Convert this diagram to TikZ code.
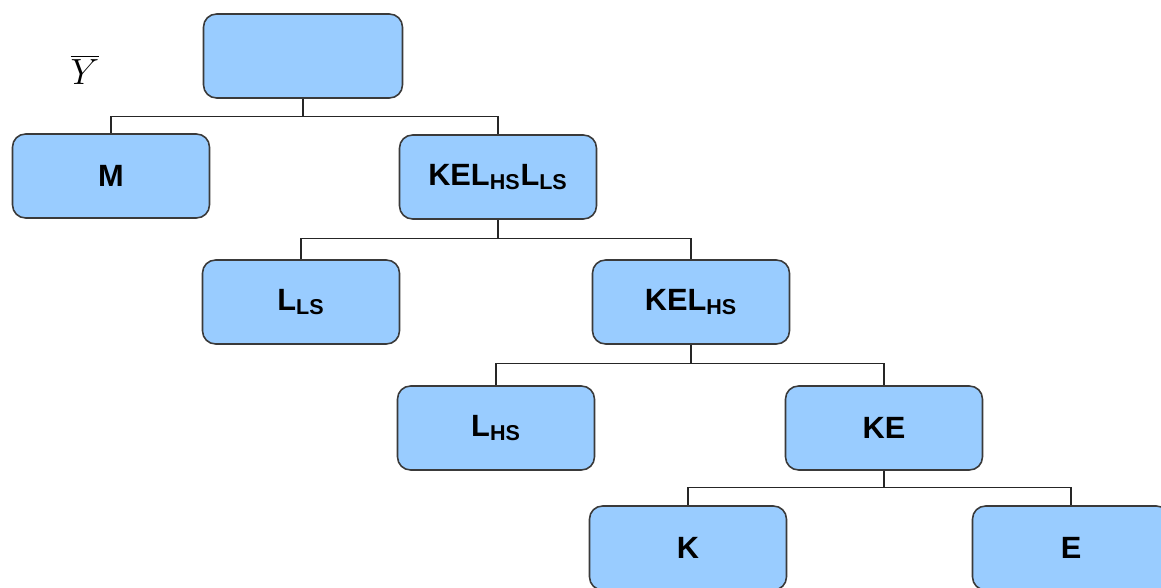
\documentclass[tikz,border=0pt]{standalone}
\usepackage{fontspec}
\setsansfont{Liberation Sans}
\usetikzlibrary{positioning}
\definecolor{boxblue}{HTML}{99CCFF}
\definecolor{boxline}{HTML}{3A3A3A}
\tikzstyle{block} = [draw=boxline, fill=boxblue, rectangle, rounded corners=0.26cm, line width=0.9pt, minimum height=1.68cm, minimum width=3.94cm, font=\sffamily\bfseries\fontsize{17.5}{20}\selectfont]
\tikzstyle{link} = [draw=black!85, line width=0.8pt]

\begin{document}
\begin{tikzpicture}[x=0.02cm,y=-0.02cm]
    \clip (0,0) rectangle (1161,588);
    \node [block, minimum width=3.98cm] (root) at (303,56) {};
    \node (ybar) at (85,70) {\fontsize{21}{24}\selectfont$\overline{Y}$};
    \node [block] (M) at (111,176) {M};
    \node [block] (KELL) at (498,177) {KEL\textsubscript{HS}L\textsubscript{LS}};
    \node [block] (LLS) at (301,302) {L\textsubscript{LS}};
    \node [block] (KEL) at (691,302) {KEL\textsubscript{HS}};
    \node [block] (LHS) at (496,428) {L\textsubscript{HS}};
    \node [block] (KE) at (884,428) {KE};
    \node [block] (K) at (688,548) {K};
    \node [block] (E) at (1071,548) {E};

    % forks between levels
    \draw [link] (root.south) -- ++(0,18) coordinate (j1);
    \draw [link] (M) |- (j1) -| (KELL);
    \draw [link] (KELL.south) -- ++(0,19) coordinate (j2);
    \draw [link] (LLS) |- (j2) -| (KEL);
    \draw [link] (KEL.south) -- ++(0,19) coordinate (j3);
    \draw [link] (LHS) |- (j3) -| (KE);
    \draw [link] (KE.south) -- ++(0,17) coordinate (j4);
    \draw [link] (K) |- (j4) -| (E);
\end{tikzpicture}
\end{document}
